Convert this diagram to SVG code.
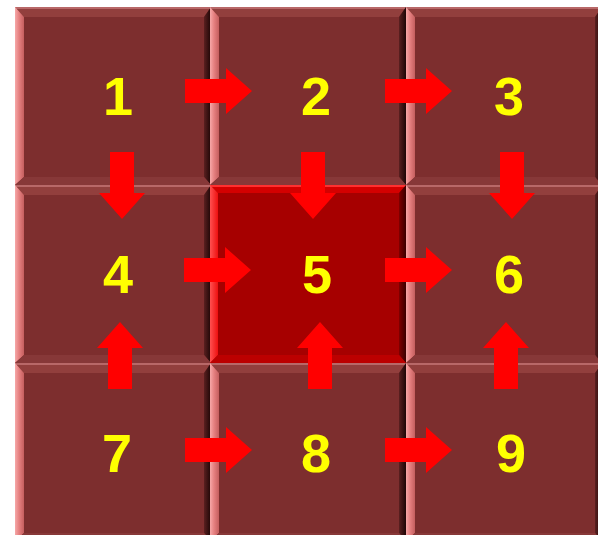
<svg xmlns="http://www.w3.org/2000/svg" xmlns:xlink="http://www.w3.org/1999/xlink" width="598" height="535" viewBox="0 0 598 535">
<style>
.lbl{font-family:"Liberation Sans",Arial,sans-serif;font-weight:bold;font-size:54px;fill:#ffff00;text-anchor:middle}
.arr{fill:#ff0000}
</style>
<defs>
<linearGradient id="gl" x1="0" y1="0" x2="1" y2="0">
<stop offset="0" stop-color="#f6a8a8"/><stop offset="0.45" stop-color="#e58080"/><stop offset="1" stop-color="#c45e5e"/>
</linearGradient>
<linearGradient id="gr" x1="0" y1="0" x2="1" y2="0">
<stop offset="0" stop-color="#5a2020"/><stop offset="1" stop-color="#1e0606"/>
</linearGradient>
<linearGradient id="gl5" x1="0" y1="0" x2="1" y2="0">
<stop offset="0" stop-color="#ff5050"/><stop offset="1" stop-color="#ee1010"/>
</linearGradient>
<linearGradient id="gr5" x1="0" y1="0" x2="1" y2="0">
<stop offset="0" stop-color="#800000"/><stop offset="1" stop-color="#3a0000"/>
</linearGradient>
<g id="tile">
<rect x="0" y="0" width="196" height="178" fill="#7d2e2e"/>
<polygon points="0,0 196,0 189,10 9,10" fill="#923f3d"/>
<rect x="0" y="0" width="196" height="2" fill="#b86868"/>
<polygon points="0,0 9,10 9,170 0,178" fill="url(#gl)"/>
<polygon points="196,0 196,178 189,170 189,10" fill="url(#gr)"/>
<polygon points="0,178 9,170 189,170 196,178" fill="#873838"/>
</g>
<g id="tile5">
<rect x="0" y="0" width="196" height="178" fill="#a60000"/>
<polygon points="0,0 196,0 189,8 8,8" fill="#d40000"/>
<rect x="0" y="0" width="196" height="2" fill="#ff3030"/>
<polygon points="0,0 8,8 8,170 0,178" fill="url(#gl5)"/>
<polygon points="196,0 196,178 189,170 189,8" fill="url(#gr5)"/>
<polygon points="0,178 8,170 189,170 196,178" fill="#bc0000"/>
</g>
<polygon id="arrow" points="0,-12 41,-12 41,-23 67,0 41,23 41,12 0,12"/>
</defs>
<rect width="598" height="535" fill="#ffffff"/>
<g id="n1"><use xlink:href="#tile" x="15" y="7"/><text class="lbl" x="118" y="115">1</text></g>
<g id="n2"><use xlink:href="#tile" x="210" y="7"/><text class="lbl" x="316" y="115">2</text></g>
<g id="n3"><use xlink:href="#tile" x="406" y="7"/><text class="lbl" x="509" y="115">3</text></g>
<g id="n4"><use xlink:href="#tile" x="15" y="185"/><text class="lbl" x="118" y="293">4</text></g>
<g id="n5"><use xlink:href="#tile5" x="210" y="185"/><text class="lbl" x="317" y="293">5</text></g>
<g id="n6"><use xlink:href="#tile" x="406" y="185"/><text class="lbl" x="509" y="293">6</text></g>
<g id="n7"><use xlink:href="#tile" x="15" y="363"/><text class="lbl" x="117" y="472">7</text></g>
<g id="n8"><use xlink:href="#tile" x="210" y="363"/><text class="lbl" x="316" y="472">8</text></g>
<g id="n9"><use xlink:href="#tile" x="406" y="363"/><text class="lbl" x="511" y="472">9</text></g>
<g id="connectors" class="arr">
<use xlink:href="#arrow" transform="translate(185,91)"/>
<use xlink:href="#arrow" transform="translate(385,91)"/>
<use xlink:href="#arrow" transform="translate(184,270)"/>
<use xlink:href="#arrow" transform="translate(385,270)"/>
<use xlink:href="#arrow" transform="translate(185,450)"/>
<use xlink:href="#arrow" transform="translate(385,450)"/>
<use xlink:href="#arrow" transform="translate(122,152) rotate(90)"/>
<use xlink:href="#arrow" transform="translate(313,152) rotate(90)"/>
<use xlink:href="#arrow" transform="translate(512,152) rotate(90)"/>
<use xlink:href="#arrow" transform="translate(120,389) rotate(-90)"/>
<use xlink:href="#arrow" transform="translate(320,389) rotate(-90)"/>
<use xlink:href="#arrow" transform="translate(506,389) rotate(-90)"/>
</g>
</svg>
